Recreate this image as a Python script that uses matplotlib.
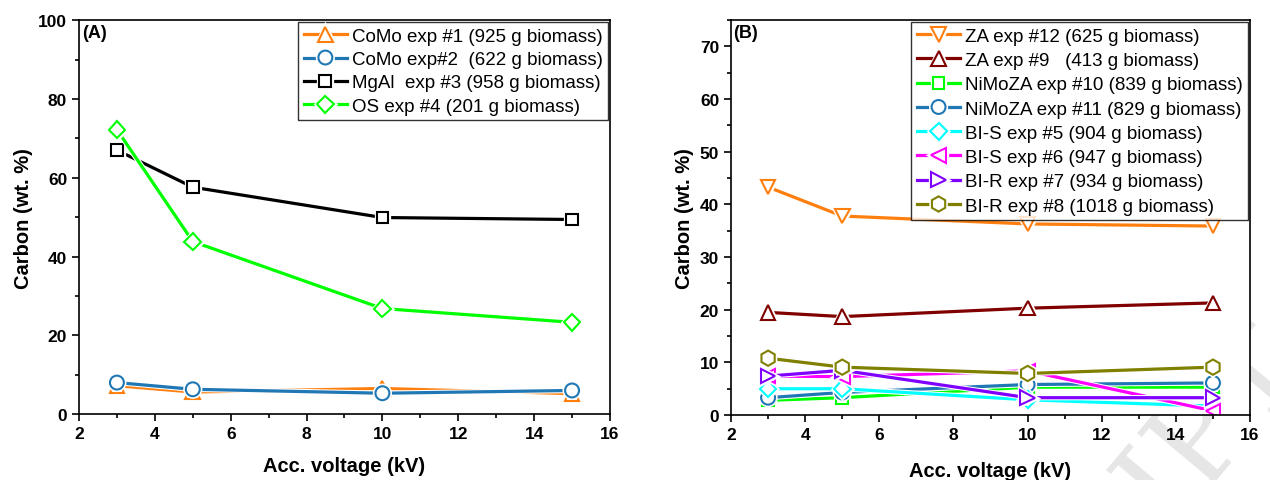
import matplotlib.pyplot as plt
import matplotlib.patheffects as pe
from matplotlib.ticker import MultipleLocator

plt.rcParams['font.family'] = ['Liberation Sans', 'DejaVu Sans']

voltage = [3, 5, 10, 15]

# panel A
como1 = [7.2, 5.6, 6.5, 5.2]
como2 = [8.0, 6.3, 5.3, 6.0]
mgal3 = [67.0, 57.6, 49.9, 49.4]
os4 = [72.2, 43.8, 26.8, 23.3]

# panel B
za12 = [43.3, 37.8, 36.3, 35.9]
za9 = [19.5, 18.7, 20.3, 21.3]
nimoza10 = [2.8, 3.3, 5.3, 5.3]
nimoza11 = [3.3, 4.3, 5.8, 6.1]
bis5 = [5.0, 5.0, 2.9, 1.7]
bis6 = [7.4, 7.3, 8.4, 0.8]
bir7 = [7.4, 8.5, 3.3, 3.3]
bir8 = [10.8, 9.1, 7.9, 9.1]

series_a = [
    ("CoMo exp #1 (925 g biomass)", como1, "#FF7F0E", "^"),
    ("CoMo exp#2  (622 g biomass)", como2, "#1F77B4", "o"),
    ("MgAl  exp #3 (958 g biomass)", mgal3, "#000000", "s"),
    ("OS exp #4 (201 g biomass)", os4, "#00FF00", "D"),
]
series_b = [
    ("ZA exp #12 (625 g biomass)", za12, "#FF7F0E", "v"),
    ("ZA exp #9   (413 g biomass)", za9, "#800000", "^"),
    ("NiMoZA exp #10 (839 g biomass)", nimoza10, "#00FF00", "s"),
    ("NiMoZA exp #11 (829 g biomass)", nimoza11, "#1F77B4", "o"),
    ("BI-S exp #5 (904 g biomass)", bis5, "#00FFFF", "D"),
    ("BI-S exp #6 (947 g biomass)", bis6, "#FF00FF", "<"),
    ("BI-R exp #7 (934 g biomass)", bir7, "#8000FF", ">"),
    ("BI-R exp #8 (1018 g biomass)", bir8, "#808000", "h"),
]
marker_size = {"D": 8.5, "s": 8.5, "o": 10, "h": 11}

fig = plt.figure(figsize=(12.7, 4.81), dpi=100)
ax_a = fig.add_axes([0.0622, 0.137, 0.4181, 0.819])
ax_b = fig.add_axes([0.5756, 0.135, 0.4087, 0.821])


def draw(ax, series, ymax, ymaj, ymin, tag, xpad, lspace):
    for label, vals, color, mk in series:
        ms = marker_size.get(mk, 10.5)
        ax.plot(voltage, vals, color=color, lw=2.3, marker=mk, ms=ms,
                mfc="white", mec=color, mew=1.5, label=label,
                path_effects=[pe.Stroke(linewidth=3.8, foreground="white"), pe.Normal()])
    ax.set_xlim(2, 16)
    ax.set_ylim(0, ymax)
    ax.xaxis.set_major_locator(MultipleLocator(2))
    ax.xaxis.set_minor_locator(MultipleLocator(1))
    ax.yaxis.set_major_locator(MultipleLocator(ymaj))
    ax.yaxis.set_minor_locator(MultipleLocator(ymin))
    ax.tick_params(which="major", direction="out", length=5, width=1.2,
                   labelsize=12.5)
    ax.tick_params(which="minor", direction="out", length=3, width=1.2)
    for lab in ax.get_xticklabels() + ax.get_yticklabels():
        lab.set_fontweight("bold")
    for sp in ax.spines.values():
        sp.set_linewidth(1.2)
    ax.set_xlabel("Acc. voltage (kV)", fontsize=14.5, fontweight="bold", labelpad=xpad)
    ax.set_ylabel("Carbon (wt. %)", fontsize=14.5, fontweight="bold")
    ax.text(0.005, 0.99, tag, transform=ax.transAxes, fontsize=13,
            fontweight="bold", va="top", ha="left")
    leg = ax.legend(loc="upper right", fontsize=13.5, frameon=True, fancybox=False,
                    edgecolor="black", borderpad=0.3, labelspacing=lspace,
                    handlelength=2.3, handletextpad=0.25, borderaxespad=0.1)
    leg.get_frame().set_linewidth(1.0)


draw(ax_a, series_a, 100, 20, 10, "(A)", 11, 0.33)
draw(ax_b, series_b, 75, 10, 5, "(B)", 14, 0.38)

fig.text(0.955, 0.12, "IPT", fontsize=90, family="DejaVu Serif", color="#e6e6e6",
         rotation=50, ha="center", va="center", zorder=-10)

fig.savefig("out.png", dpi=100)
